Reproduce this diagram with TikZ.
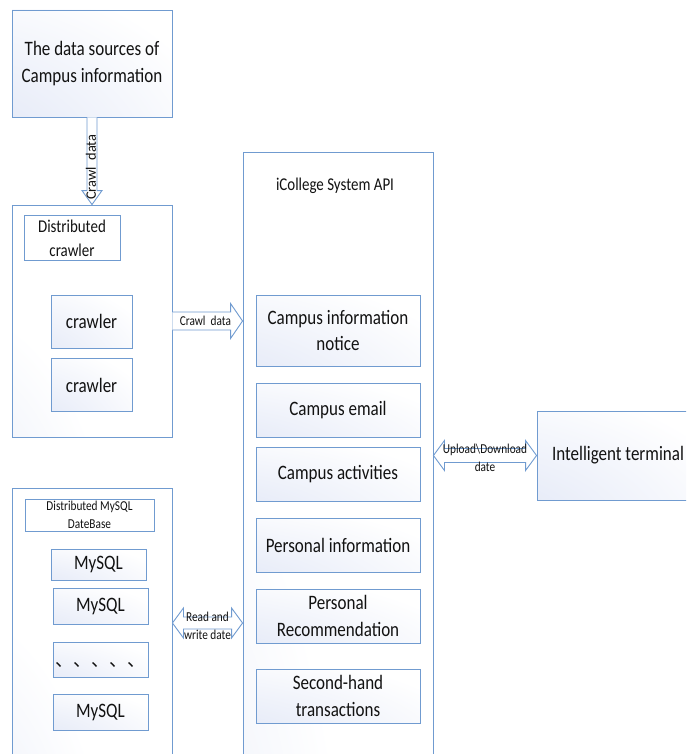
\documentclass[tikz,border=0pt]{standalone}
\usepackage{fontspec}
\setmainfont{Carlito}[FakeStretch=0.83]
\newfontfamily\uprightfont{Carlito}
\newfontfamily\cjkfont{Noto Sans CJK SC}
\usetikzlibrary{calc}

\definecolor{boxblue}{RGB}{112,155,208}
\definecolor{inkgray}{RGB}{18,18,18}

% brillo desde la esquina superior izquierda: (218,225,244) -> blanco (eje y invertido)
\pgfdeclarefunctionalshading{cornerglow}{\pgfpoint{-50bp}{-50bp}}{\pgfpoint{50bp}{50bp}}{}{
  exch 50 add dup mul exch 50 add dup mul add sqrt
  95 div dup 1 gt {pop 1} if
  dup dup 0.145 mul 0.855 add 3 1 roll 0.118 mul 0.882 add exch 0.043 mul 0.957 add
}
\pgfdeclarefunctionalshading{cornerglowbig}{\pgfpoint{-50bp}{-50bp}}{\pgfpoint{50bp}{50bp}}{}{
  exch 50 add dup mul exch 50 add dup mul add sqrt
  55 div dup 1 gt {pop 1} if
  dup dup 0.11 mul 0.89 add 3 1 roll 0.09 mul 0.91 add exch 0.035 mul 0.965 add
}

\tikzset{
  box/.style={draw=boxblue, line width=0.9pt, shade, shading=cornerglow,
    inner sep=0pt, align=center, text=inkgray},
  bigbox/.style={draw=boxblue, line width=0.9pt, shade, shading=cornerglowbig, inner sep=0pt},
  labelbox/.style={draw=boxblue, line width=0.9pt, fill=white, inner sep=0pt,
    align=center, text=inkgray},
  blockarrow/.style={draw=boxblue, line width=0.9pt, fill=white, line join=miter},
  bigtext/.style={font=\fontsize{20.5}{26.5}\selectfont},
  midtext/.style={font=\fontsize{18}{24}\selectfont},
  smalltext/.style={font=\fontsize{13.6}{18}\selectfont},
  arrowtext/.style={font=\fontsize{13.6}{18}\selectfont, inner sep=0pt, align=center, text=inkgray}
}

\begin{document}
\begin{tikzpicture}[x=1pt, y=-1pt]
\useasboundingbox (0,0) rectangle (686,754);
\clip (0,0) rectangle (686,754);

% === Fuente de datos ===
\node[box, bigtext, minimum width=160, minimum height=107] (source) at (92,63.5)
    {The data sources of\\Campus information};

% === Crawler distribuido ===
\node[bigbox, minimum width=160, minimum height=232] (crawlers) at (92,321) {};
\node[labelbox, midtext, minimum width=96, minimum height=45] (crawlhead) at (72,238)
    {Distributed\\crawler};
\node[box, bigtext, minimum width=81, minimum height=53] (crawlerA) at (91.5,321.5) {crawler};
\node[box, bigtext, minimum width=81, minimum height=53] (crawlerB) at (91.5,385) {crawler};

% === API del sistema ===
\node[bigbox, minimum width=190, minimum height=618] (api) at (338,461) {};
\node[fill=white, midtext, text=inkgray, minimum width=149, minimum height=31] (apihead)
    at (335,186) {iCollege System API};
\node[box, bigtext, minimum width=164, minimum height=71] (notice) at (338,330.5)
    {Campus information\\notice};
\node[box, bigtext, minimum width=164, minimum height=54] (email) at (338,410) {Campus email};
\node[box, bigtext, minimum width=164, minimum height=54] (activity) at (338,474) {Campus activities};
\node[box, bigtext, minimum width=164, minimum height=54] (personal) at (338,545) {Personal information};
\node[box, bigtext, minimum width=164, minimum height=54] (recommend) at (338,616)
    {Personal\\Recommendation};
\node[box, bigtext, minimum width=164, minimum height=54] (secondhand) at (338,696)
    {Second-hand\\transactions};

% === Terminal ===
\node[box, bigtext, minimum width=162, minimum height=89] (terminal) at (618,455.5)
    {Intelligent terminal};

% === Base de datos MySQL ===
\node[bigbox, minimum width=160, minimum height=270] (mysqls) at (92,623) {};
\node[labelbox, smalltext, minimum width=129, minimum height=32] (mysqlhead) at (89.5,515)
    {Distributed MySQL\\DateBase};
\node[box, bigtext, minimum width=95, minimum height=31] (mysqlA) at (98.5,564.5) {MySQL};
\node[box, bigtext, minimum width=95, minimum height=36] (mysqlB) at (100.5,606) {MySQL};
\node[box, minimum width=95, minimum height=35] (mysqlC) at (100.5,659.5) {};
\node[text=inkgray, font=\cjkfont\fontsize{18}{18}\selectfont] (mysqldots)
    at ($(mysqlC)+(0,5)$) {、、、、、};
\node[box, bigtext, minimum width=95, minimum height=36] (mysqlD) at (100.5,712) {MySQL};

% === Flechas ===
% Crawl data (hacia abajo)
\draw[blockarrow] ($(source.south)+(-5,0)$) -- ($(crawlers.north)+(-5,-14)$)
    -- ($(crawlers.north)+(-10,-14)$) -- (crawlers.north) -- ($(crawlers.north)+(10,-14)$)
    -- ($(crawlers.north)+(5,-14)$) -- ($(source.south)+(5,0)$);
\node[arrowtext, rotate=90, font=\uprightfont\fontsize{14.4}{16}\selectfont] (crawltagA)
    at ($(source.south)!0.57!(crawlers.north)+(-1,0)$) {Crawl~~data};

% Crawl data (hacia la API)
\coordinate (crawlin) at (api.west |- crawlers.east);
\draw[blockarrow] ($(crawlers.east)+(0,-9)$) -- ($(crawlin)+(-12,-9)$)
    -- ($(crawlin)+(-12,-17.5)$) -- (crawlin) -- ($(crawlin)+(-12,17.5)$)
    -- ($(crawlin)+(-12,9)$) -- ($(crawlers.east)+(0,9)$);
\node[arrowtext] (crawltagB) at ($(crawlers.east)!0.47!(crawlin)$) {Crawl~~data};

% Upload\Download
\coordinate (uploadout) at (api.east |- terminal.west);
\draw[blockarrow] (uploadout) -- ++(11,-15) -- ++(0,8) -- ($(terminal.west)+(-11,-7)$)
    -- ++(0,-8) -- (terminal.west) -- ++(-11,15) -- ++(0,-8)
    -- ($(uploadout)+(11,7)$) -- ++(0,8) -- cycle;
\node[arrowtext] (uploadtag) at ($(uploadout)!0.5!(terminal.west)+(0,2)$)
    {Upload\textbackslash Download\\date};

% Read and write
\coordinate (rwin) at (api.west |- mysqls.east);
\draw[blockarrow] (mysqls.east) -- ++(11,-15) -- ++(0,9) -- ($(rwin)+(-11,-6)$)
    -- ++(0,-9) -- (rwin) -- ++(-11,15) -- ++(0,-9)
    -- ($(mysqls.east)+(11,6)$) -- ++(0,9) -- cycle;
\node[arrowtext] (rwtag) at ($(mysqls.east)!0.5!(rwin)+(0,3)$) {Read and\\write date};

\end{tikzpicture}
\end{document}
